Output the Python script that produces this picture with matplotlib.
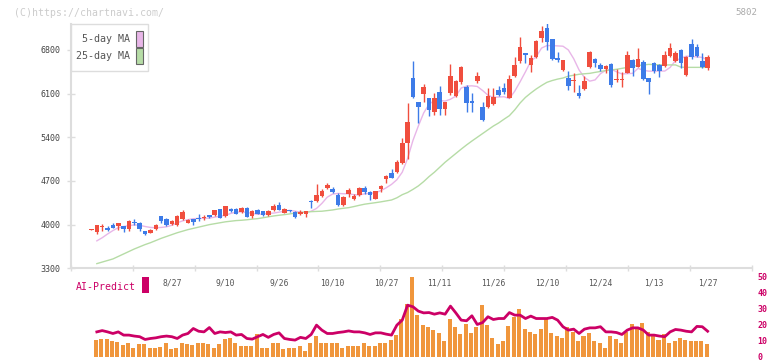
import numpy as np
import matplotlib
matplotlib.use("Agg")
import matplotlib.pyplot as plt
from matplotlib.patches import Rectangle

plt.rcParams["font.family"] = ["DejaVu Sans Mono"]

W, H = 772, 361

# daily candles, index 0 .. 115
opens = [3920, 3883, 3965, 3947, 3989, 3979, 3979, 3936, 4043, 4027,
         3899, 3866, 3936, 4134, 4085, 4016, 3989, 4085, 4027, 4085,
         4110, 4100, 4150, 4150, 4246, 4134, 4256, 4246, 4203, 4272,
         4134, 4240, 4214, 4150, 4230, 4310, 4192, 4220, 4203, 4176,
         4171, 4383, 4385, 4455, 4593, 4572, 4476, 4315, 4491, 4411,
         4475, 4593, 4529, 4411, 4572, 4732, 4833, 4849, 4994, 5314,
         6356, 5972, 6094, 6036, 5811, 6132, 5854, 6116, 6068, 6292,
         6212, 5982, 6308, 5891, 5891, 5939, 6158, 6190, 6035, 6388,
         6628, 6746, 6559, 6692, 6997, 7157, 6975, 6676, 6478, 6356,
         6310, 6115, 6174, 6532, 6655, 6559, 6500, 6575, 6322, 6312,
         6436, 6639, 6532, 6607, 6350, 6585, 6559, 6543, 6708, 6623,
         6799, 6398, 6895, 6853, 6628, 6505]
closes = [3920, 3989, 3973, 3909, 3947, 4027, 3936, 4059, 4027, 3936,
          3856, 3920, 4000, 4059, 4000, 4059, 4134, 4203, 4080, 4043,
          4096, 4117, 4123, 4230, 4107, 4294, 4219, 4176, 4272, 4123,
          4219, 4176, 4150, 4214, 4294, 4240, 4246, 4214, 4123, 4203,
          4219, 4360, 4480, 4540, 4636, 4520, 4315, 4440, 4556, 4465,
          4582, 4529, 4475, 4540, 4625, 4780, 4753, 5010, 5314, 5651,
          6052, 5891, 6212, 5838, 6036, 5854, 5960, 6388, 6303, 6533,
          5945, 5945, 6383, 5677, 6062, 6046, 6078, 6131, 6334, 6559,
          6853, 6714, 6676, 6949, 7109, 6933, 6655, 6639, 6639, 6228,
          6318, 6062, 6308, 6767, 6596, 6495, 6543, 6238, 6329, 6318,
          6719, 6516, 6655, 6334, 6292, 6468, 6468, 6719, 6831, 6751,
          6585, 6692, 6692, 6708, 6527, 6692]
highs = [3925, 3995, 4016, 3979, 4032, 4030, 3985, 4069, 4085, 4043,
         3905, 3930, 4016, 4140, 4112, 4069, 4150, 4230, 4090, 4090,
         4178, 4150, 4160, 4240, 4250, 4300, 4270, 4260, 4280, 4280,
         4230, 4250, 4225, 4240, 4330, 4370, 4260, 4240, 4215, 4240,
         4225, 4400, 4652, 4572, 4663, 4600, 4500, 4460, 4580, 4490,
         4600, 4620, 4535, 4545, 4630, 4790, 4890, 5035, 5384, 5955,
         6629, 5972, 6255, 6036, 6105, 6228, 5965, 6575, 6320, 6545,
         6240, 6105, 6452, 5970, 6185, 6185, 6222, 6270, 6398, 6692,
         7013, 6756, 6720, 6960, 7189, 7227, 6975, 6772, 6645, 6468,
         6436, 6238, 6388, 6780, 6676, 6585, 6559, 6585, 6495, 6441,
         6783, 6655, 6836, 6640, 6355, 6607, 6570, 6783, 6917, 6783,
         6815, 6700, 6975, 6895, 6746, 6719]
lows = [3915, 3856, 3899, 3893, 3940, 3920, 3883, 3899, 3989, 3899,
        3829, 3860, 3909, 4032, 3973, 4000, 3980, 4070, 4020, 4000,
        4060, 4080, 4100, 4140, 4100, 4120, 4210, 4170, 4190, 4115,
        4110, 4165, 4140, 4145, 4220, 4230, 4185, 4200, 4110, 4150,
        4130, 4270, 4370, 4440, 4572, 4500, 4300, 4300, 4450, 4400,
        4460, 4490, 4400, 4405, 4530, 4675, 4745, 4825, 4970, 5047,
        6025, 5624, 5972, 5742, 5760, 5760, 5750, 6078, 6050, 6250,
        5811, 5811, 6276, 5660, 5864, 5920, 6060, 6095, 6025, 6372,
        6585, 6585, 6452, 6676, 6933, 6799, 6639, 6612, 6470, 6158,
        6131, 6024, 6158, 6505, 6532, 6468, 6425, 6211, 6286, 6211,
        6425, 6388, 6522, 6318, 6094, 6425, 6372, 6532, 6682, 6602,
        6505, 6382, 6660, 6692, 6515, 6478]

# moving averages, index 1 .. 115
ma5 = [3740, 3790, 3850, 3905, 3950, 3970, 3985, 3995, 3990, 3970,
       3955, 3950, 3955, 3965, 3990, 4030, 4060, 4080, 4095, 4100,
       4100, 4105, 4120, 4135, 4150, 4180, 4200, 4205, 4195, 4180,
       4165, 4170, 4180, 4185, 4200, 4215, 4230, 4215, 4200, 4195,
       4215, 4260, 4340, 4440, 4490, 4500, 4495, 4495, 4480, 4475,
       4495, 4500, 4510, 4545, 4590, 4645, 4720, 4840, 5060, 5350,
       5580, 5790, 5930, 5990, 5990, 5980, 6010, 6060, 6190, 6220,
       6225, 6215, 6150, 6075, 6040, 6045, 6050, 6020, 6140, 6290,
       6450, 6620, 6690, 6830, 6870, 6870, 6865, 6860, 6800, 6660,
       6480, 6360, 6300, 6320, 6420, 6475, 6490, 6450, 6415, 6420,
       6425, 6505, 6475, 6460, 6460, 6462, 6462, 6520, 6630, 6665,
       6700, 6695, 6690, 6680, 6640]
ma25 = [3375, 3400, 3425, 3450, 3490, 3530, 3570, 3610, 3645, 3680,
        3710, 3745, 3780, 3810, 3840, 3870, 3895, 3920, 3940, 3960,
        3980, 4000, 4015, 4030, 4045, 4055, 4065, 4070, 4078, 4088,
        4096, 4110, 4125, 4139, 4150, 4160, 4172, 4185, 4195, 4203,
        4208, 4212, 4215, 4225, 4235, 4250, 4262, 4272, 4290, 4310,
        4328, 4340, 4352, 4365, 4380, 4395, 4430, 4480, 4515, 4565,
        4620, 4690, 4770, 4840, 4920, 5000, 5070, 5140, 5210, 5277,
        5340, 5400, 5460, 5520, 5580, 5630, 5690, 5747, 5840, 5950,
        6040, 6110, 6174, 6230, 6281, 6310, 6333, 6350, 6380, 6395,
        6410, 6418, 6425, 6441, 6455, 6470, 6480, 6490, 6505, 6520,
        6540, 6550, 6560, 6569, 6565, 6562, 6560, 6560, 6560, 6525,
        6521, 6521, 6521, 6521, 6521]

# lower panel, index 1 .. 115
volume = [10.4, 10.9, 10.9, 9.8, 9.4, 7.3, 8.4, 5.9, 7.8, 7.8,
          5.3, 5.9, 6.3, 8.4, 4.7, 5.9, 9.0, 7.8, 7.3, 9.0,
          9.0, 7.8, 5.9, 7.8, 10.9, 11.5, 8.4, 7.0, 6.8, 6.8,
          14.0, 5.3, 5.9, 8.4, 8.4, 4.7, 5.3, 5.9, 6.8, 3.8,
          9.0, 12.9, 8.4, 8.4, 9.0, 9.0, 5.9, 7.1, 7.1, 6.8,
          9.0, 6.8, 6.8, 8.4, 8.4, 10.5, 13.6, 23.9, 33.2, 49.4,
          26.0, 19.8, 18.7, 16.7, 15.2, 9.8, 23.9, 18.7, 14.2, 20.8,
          15.2, 18.7, 32.2, 19.8, 11.5, 7.9, 9.8, 19.2, 25.0, 29.7,
          17.7, 15.6, 14.2, 17.3, 23.9, 15.2, 13.2, 11.5, 18.7, 15.6,
          9.8, 12.9, 15.0, 9.8, 9.0, 5.9, 12.9, 10.9, 8.4, 15.6,
          20.8, 18.7, 21.4, 15.6, 13.6, 10.5, 14.0, 9.0, 9.8, 11.5,
          10.5, 9.8, 9.8, 9.8, 7.9]
ai_predict = [15.6, 16.4, 15.6, 14.6, 15.6, 13.6, 13.6, 13.0, 12.6, 10.9,
              11.5, 11.9, 12.6, 13.0, 12.6, 11.5, 13.6, 14.6, 17.7, 16.0,
              15.6, 18.3, 14.6, 15.6, 15.2, 15.6, 13.6, 14.0, 11.5, 11.1,
              12.6, 14.0, 12.2, 14.0, 15.0, 11.5, 10.9, 10.5, 12.2, 11.5,
              14.0, 19.8, 16.7, 14.6, 14.6, 15.2, 15.6, 16.2, 15.6, 15.6,
              15.0, 14.0, 15.0, 15.0, 14.2, 13.6, 19.8, 22.9, 32.2, 31.2,
              28.5, 27.4, 27.6, 26.6, 27.4, 26.6, 31.6, 27.4, 22.9, 22.5,
              25.6, 20.2, 21.4, 25.0, 23.3, 23.9, 23.9, 27.6, 26.0, 26.0,
              23.9, 25.4, 23.9, 23.9, 23.9, 24.6, 22.9, 18.8, 16.7, 17.3,
              14.6, 17.3, 18.1, 18.1, 18.8, 15.6, 15.6, 15.2, 14.0, 16.7,
              18.1, 18.1, 16.7, 13.6, 13.6, 13.0, 12.6, 15.6, 17.1, 16.7,
              16.0, 15.6, 19.0, 18.8, 16.0]

date_labels = ["8/27", "9/10", "9/26", "10/10", "10/27", "11/11",
               "11/26", "12/10", "12/24", "1/13", "1/27"]
date_index = [15, 25, 35, 45, 55, 65, 75, 85, 95, 105, 115]
price_ticks = [3300, 4000, 4700, 5400, 6100, 6800]
volume_ticks = [0, 10, 20, 30, 40, 50]

UP = "#f04e3e"
DOWN = "#3d7be8"
MA5_COLOR = "#e8b6e8"
MA25_COLOR = "#b6dca6"
AI_COLOR = "#cc0066"
BAR_COLOR = "#f0963c"
AXIS_GRAY = "#dddddd"


def fx(px):
    return px / W


def fy(py):
    return 1 - py / H


fig = plt.figure(figsize=(W / 100, H / 100), dpi=100)
XLIM = (-3.88, 123.28)

# price panel
ax = fig.add_axes([fx(70.7), fy(268.3), fx(752) - fx(70.7), fy(24) - fy(268.3)])
o = np.array(opens, dtype=float)
c = np.array(closes, dtype=float)
idx = np.arange(len(o))
colors = np.where(c >= o, UP, DOWN)
ax.vlines(idx, lows, highs, colors=colors, linewidth=1.0, zorder=3)
body_low = np.minimum(o, c)
body_h = np.maximum(np.abs(c - o), 16)
ax.bar(idx, body_h, bottom=body_low, width=0.85, color=colors, zorder=4)

ma_idx = np.arange(1, len(ma5) + 1)
ax.plot(ma_idx, ma5, color=MA5_COLOR, lw=1.0, zorder=2)
ax.plot(ma_idx, ma25, color=MA25_COLOR, lw=1.0, zorder=2)

ax.set_xlim(*XLIM)
ax.set_ylim(3300, 7216)
ax.set_yticks(price_ticks)
ax.set_yticklabels([str(t) for t in price_ticks])
ax.set_xticks(date_index)
ax.set_xticklabels(date_labels)
ax.set_xticks(np.linspace(XLIM[0], XLIM[1], 12), minor=True)
ax.tick_params(axis="x", which="major", length=0, pad=7.5,
               labelsize=5.8, labelcolor="#555555")
ax.tick_params(axis="x", which="minor", direction="inout", length=4,
               width=1, color=AXIS_GRAY)
ax.tick_params(axis="y", direction="inout", length=6, width=1,
               color=AXIS_GRAY, pad=4.5, labelsize=6, labelcolor="#444444")
for side in ["top", "right"]:
    ax.spines[side].set_visible(False)
for side in ["left", "bottom"]:
    ax.spines[side].set_color(AXIS_GRAY)
    ax.spines[side].set_linewidth(1.5)

# lower panel
ax2 = fig.add_axes([fx(70.7), fy(357.0), fx(752) - fx(70.7), fy(276.5) - fy(357.0)])
v_idx = np.arange(1, len(volume) + 1)
ax2.bar(v_idx - 0.17, volume, width=0.75, color=BAR_COLOR, zorder=2)
ax2.plot(v_idx, ai_predict, color=AI_COLOR, lw=2.0, zorder=3)
ax2.set_xlim(*XLIM)
ax2.set_ylim(0, 50)
ax2.set_xticks([])
ax2.yaxis.tick_right()
ax2.set_yticks(volume_ticks)
ax2.tick_params(axis="y", length=0, pad=4, labelsize=6, labelcolor=AI_COLOR)
for lab in ax2.get_yticklabels():
    lab.set_fontweight("bold")
for side in ax2.spines:
    ax2.spines[side].set_visible(False)
ax2.patch.set_alpha(0)

# legend box
fig.add_artist(Rectangle((fx(70.7), fy(71)), fx(148.3) - fx(70.7), fy(24.3) - fy(71),
                         transform=fig.transFigure, facecolor="white",
                         edgecolor=AXIS_GRAY, lw=1, zorder=5))
for label, col, ymid in [("5-day MA", MA5_COLOR, 39), ("25-day MA", MA25_COLOR, 56)]:
    fig.text(fx(129.5), fy(ymid), label, ha="right", va="center",
             fontsize=7.2, color="#555555", zorder=6)
    fig.add_artist(Rectangle((fx(136.3), fy(ymid + 7.5)), fx(6.4), 15 / H,
                             transform=fig.transFigure, facecolor=col,
                             edgecolor="#666666", lw=0.8, zorder=6))

fig.text(fx(14), fy(12.5), "(C)https://chartnavi.com/", ha="left", va="center",
         fontsize=7.1, color="#cccccc")
fig.text(fx(757), fy(12.5), "5802", ha="right", va="center",
         fontsize=6.6, color="#aaaaaa")
fig.text(fx(76), fy(286.5), "AI-Predict", ha="left", va="center",
         fontsize=7.1, color=AI_COLOR)
fig.add_artist(Rectangle((fx(142), fy(293)), fx(7), 16 / H,
                         transform=fig.transFigure, facecolor=AI_COLOR,
                         edgecolor="none"))

fig.savefig("out.png", dpi=100)
